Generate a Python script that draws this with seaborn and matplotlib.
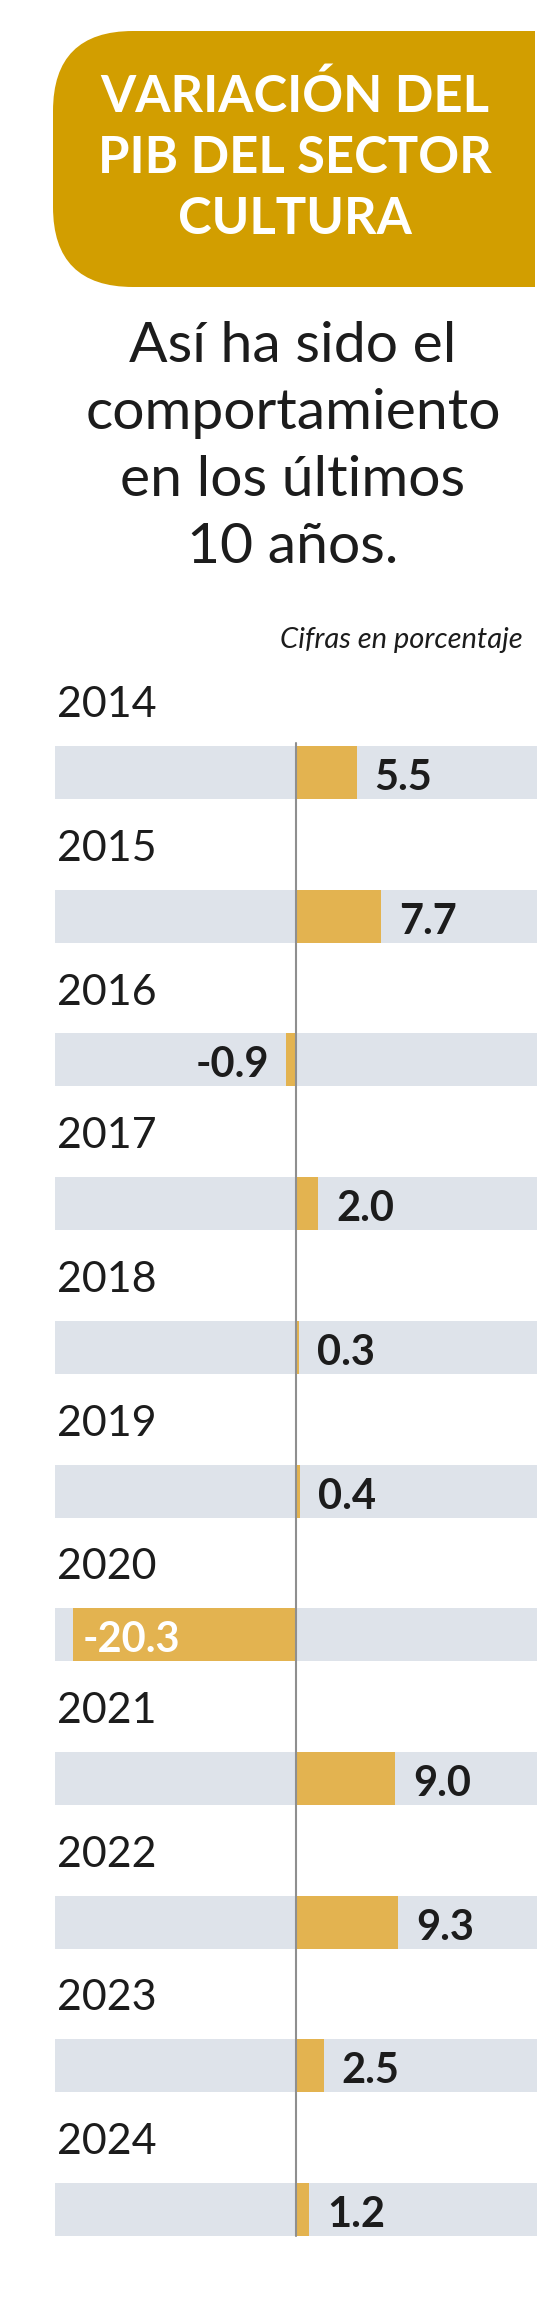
import numpy as np
import pandas as pd
import matplotlib
matplotlib.use("Agg")
import matplotlib.pyplot as plt
import matplotlib.transforms as mtransforms
from matplotlib.patches import FancyBboxPatch, Rectangle
import seaborn as sns

# data
years = ["2014", "2015", "2016", "2017", "2018", "2019", "2020", "2021", "2022", "2023", "2024"]
values = [5.5, 7.7, -0.9, 2.0, 0.3, 0.4, -20.3, 9.0, 9.3, 2.5, 1.2]
labels = ["5.5", "7.7", "-0.9", "2.0", "0.3", "0.4", "-20.3", "9.0", "9.3", "2.5", "1.2"]

title_lines = ["VARIACIÓN DEL", "PIB DEL SECTOR", "CULTURA"]
subtitle_lines = ["Así ha sido el", "comportamiento", "en los últimos", "10 años."]
note = "Cifras en porcentaje"

GOLD = "#D29E00"
BAR = "#E3B350"
TRACK = "#DEE3EA"
INK = "#1c1c1c"

sns.set_theme(style="white")
plt.rcParams["font.family"] = ["Lato", "DejaVu Sans"]

W, H = 560, 2300
fig = plt.figure(figsize=(W / 100, H / 100), dpi=100)

# header drawn in pixel coordinates
bg = fig.add_axes([0, 0, 1, 1])
bg.set_xlim(0, W)
bg.set_ylim(H, 0)
bg.axis("off")

bg.add_patch(FancyBboxPatch((53, 31), 482, 256, boxstyle="round,pad=0,rounding_size=80",
                            fc=GOLD, ec="none"))
bg.add_patch(Rectangle((300, 31), 235, 256, fc=GOLD, ec="none"))
for i, line in enumerate(title_lines):
    bg.text(295, 112 + 61 * i, line, ha="center", va="baseline", fontsize=36.5,
            fontweight="bold", color="white")

for i, line in enumerate(subtitle_lines):
    bg.text(293, 362 + 67 * i, line, ha="center", va="baseline", fontsize=41, color=INK)

bg.text(523, 648, note, ha="right", va="baseline", fontsize=21, style="italic", color=INK)

# bar panel
pitch_px = 143.7
first_center_px = 772.5
top_px = 600
bar_h = 53 / pitch_px

ax = fig.add_axes([55 / W, 0, 482 / W, (H - top_px) / H])
ax.patch.set_alpha(0)

df = pd.DataFrame({"anio": years, "variacion": values})
sns.barplot(data=df, x="variacion", y="anio", orient="h", color=BAR, saturation=1,
            width=bar_h, errorbar=None, linewidth=0, edgecolor="none", ax=ax, zorder=2)

xmin, xmax = -21.9, 21.9
pos = np.arange(len(years))
ax.barh(pos, xmax - xmin, left=xmin, height=bar_h, color=TRACK, linewidth=0, zorder=0)

y_top = (top_px - first_center_px) / pitch_px
y_bot = (H - first_center_px) / pitch_px
ax.set_xlim(xmin, xmax)
ax.set_ylim(y_bot, y_top)
ax.axis("off")

ax.plot([0, 0], [-0.5 * bar_h - 0.02, pos[-1] + 0.5 * bar_h], color="#8F8F8F", lw=1.5, zorder=3)

trans = mtransforms.blended_transform_factory(ax.transAxes, ax.transData)
for i, yr in enumerate(years):
    ax.text(2 / 482, i - 0.385, yr, transform=trans, ha="left", va="baseline",
            fontsize=31, color=INK)

for i, (v, lab) in enumerate(zip(values, labels)):
    if v < -10:
        ax.annotate(lab, (v, i + 0.122), xytext=(7, 0), textcoords="offset points",
                    ha="left", va="baseline", fontsize=30, fontweight="bold", color="white", zorder=4)
    elif v < 0:
        ax.annotate(lab, (v, i + 0.122), xytext=(-12, 0), textcoords="offset points",
                    ha="right", va="baseline", fontsize=30, fontweight="bold", color=INK, zorder=4)
    else:
        ax.annotate(lab, (v, i + 0.122), xytext=(13, 0), textcoords="offset points",
                    ha="left", va="baseline", fontsize=30, fontweight="bold", color=INK, zorder=4)

fig.savefig("out.png", dpi=100, facecolor="white")
